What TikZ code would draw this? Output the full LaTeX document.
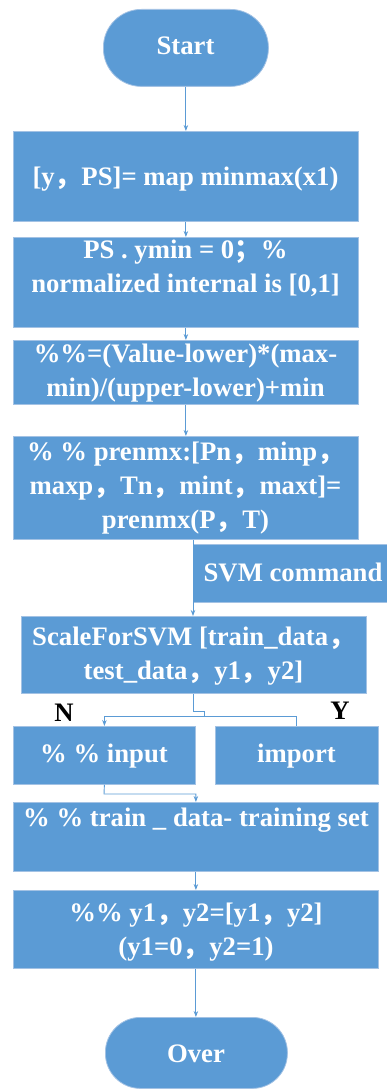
\documentclass[tikz,border=0pt]{standalone}
\usepackage{fontspec}
\setmainfont{Liberation Serif}
\newfontfamily\cjk{Noto Sans CJK SC}
\usetikzlibrary{arrows.meta}
\definecolor{boxblue}{HTML}{5B9BD5}
\definecolor{edgeblue}{HTML}{A3C2E4}
\newcommand{\fc}{{\cjk ，}}
\newcommand{\fsc}{{\cjk ；}}
\begin{document}
\begin{tikzpicture}[x=1pt,y=-1pt,
  box/.style={draw=edgeblue, line width=0.8pt, fill=boxblue, anchor=north west, inner sep=0pt},
  txt/.style={text=white, font=\fontsize{26.7}{34}\selectfont\bfseries, align=center, inner sep=0pt},
  conn/.style={draw=boxblue, line width=0.9pt},
  arr/.style={conn, -{Stealth[length=6pt,width=4.5pt]}},
  lbl/.style={text=black, font=\fontsize{26.7}{30}\selectfont\bfseries, inner sep=0pt}]
\useasboundingbox (0,0) rectangle (386,1089);
% shapes
\node[box, rounded corners=38pt, minimum width=165pt, minimum height=77pt] (start) at (103,9) {};
\node[box, minimum width=345pt, minimum height=90pt] (b1) at (13,131) {};
\node[box, minimum width=345pt, minimum height=90pt] (b2) at (13,237) {};
\node[box, minimum width=345pt, minimum height=64pt] (b3) at (13,340) {};
\node[box, minimum width=345pt, minimum height=103pt] (b4) at (13,436) {};
\node[box, minimum width=196pt, minimum height=58pt] (svm) at (193,544) {};
\node[box, minimum width=345pt, minimum height=77pt] (scale) at (21,616) {};
\node[box, minimum width=182pt, minimum height=58pt] (input) at (13,726) {};
\node[box, minimum width=163pt, minimum height=58pt] (imp) at (215,726) {};
\node[box, minimum width=365pt, minimum height=69pt] (train) at (13,802) {};
\node[box, minimum width=365pt, minimum height=78pt] (yb) at (13,890) {};
\node[box, rounded corners=35pt, minimum width=182pt, minimum height=71pt] (over) at (105,1017) {};
% texts
\node[txt] (tstart) at (185.5,46) {Start};
\node[txt] (t1) at (185.5,179) {[y\fc PS]= map minmax(x1)};
\node[txt] (t2) at (185.5,268) {PS . ymin = 0\fsc\%\\normalized internal is [0,1]};
\node[txt] (t3) at (185.5,373) {\%\%=(Value-lower)*(max-\\min)/(upper-lower)+min};
\node[txt] (t4) at (185.5,488) {\% \% prenmx:[Pn\fc minp\fc\\maxp\fc Tn\fc mint\fc maxt]=\\prenmx(P\fc T)};
\node[txt] (tsvm) at (293,572) {SVM command};
\node[txt] (tscale) at (193.5,656) {ScaleForSVM [train\_data\fc\\test\_data\fc y1\fc y2]};
\node[txt] (tinput) at (104,756) {\% \% input};
\node[txt] (timp) at (296.5,756) {import};
\node[txt] (ttrain) at (196,820) {\% \% train \_ data- training set};
\node[txt] (tyb) at (196,932) {\%\% y1\fc y2=[y1\fc y2]\\(y1=0\fc y2=1)};
\node[txt] (tover) at (196,1054) {Over};
\node[lbl] (lN) at (64,713) {N};
\node[lbl] (lY) at (340,711) {Y};
% connectors
\coordinate (j1) at (204,711);
\coordinate (j2) at (204,716);
\coordinate (j3) at (104,794);
\draw[arr] (start.south) -- (b1.north);
\draw[arr] (b1.south) -- (b2.north);
\draw[arr] (b2.south) -- (b3.north);
\draw[arr] (b3.south) -- (b4.north);
\draw[arr] (b4.south -| svm.west) -- (scale.north -| svm.west);
\draw[conn] (scale.south) |- (j1) -- (j2);
\draw[arr] (j2) -| (input.north);
\draw[conn] (j2) -| (imp.north);
\draw[arr] (input.south) -- (j3) -| (train.north);
\draw[arr] (train.south) -- (yb.north);
\draw[arr] (yb.south) -- (yb.south |- over.north);
\end{tikzpicture}
\end{document}
